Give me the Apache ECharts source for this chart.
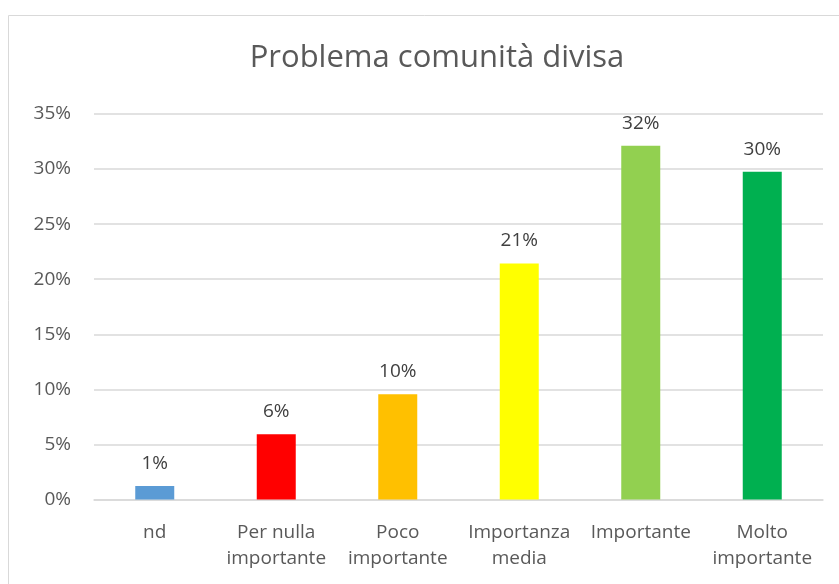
<!DOCTYPE html>
<html lang="it">
<head>
    <meta charset="UTF-8">
    <title>Problema comunità divisa</title>
    <style>
        body {
            margin: 0;
            background-color: #fff;
        }

        #chart {
            width: 839px;
            height: 584px;
        }
    </style>
</head>
<body>

    <div id="chart"></div>

    <script src="https://cdn.jsdelivr.net/npm/echarts@6/dist/echarts.min.js"></script>
    <script>

        // categorie
        const categories = ['nd', 'Per nulla\nimportante', 'Poco\nimportante', 'Importanza\nmedia', 'Importante', 'Molto\nimportante'];
        // valori (quota)
        const values = [0.0122, 0.0593, 0.0955, 0.2142, 0.3211, 0.2975];
        const barColors = ['#5B9BD5', '#FF0000', '#FFC000', '#FFFF00', '#92D050', '#00B050'];

        const font = '"Open Sans", sans-serif';
        const chart = echarts.init(document.getElementById('chart'));

        const option = {
            animation: false,
            title: {
                text: 'Problema comunità divisa',
                left: 432,
                textAlign: 'center',
                top: 38,
                textStyle: {
                    color: '#595959',
                    fontFamily: font,
                    fontSize: 31,
                    fontWeight: 'normal',
                },
            },
            graphic: [
                {
                    type: 'rect',
                    shape: { x: 8.5, y: 15.5, width: 850, height: 600 },
                    style: { fill: 'none', stroke: '#d9d9d9', lineWidth: 1 },
                },
            ],
            grid: {
                left: 94,
                right: 16,
                top: 114,
                bottom: 84.5,
            },
            xAxis: {
                type: 'category',
                data: categories,
                axisTick: { show: false },
                axisLine: { show: true, lineStyle: { color: '#d9d9d9', width: 1.5 } },
                axisLabel: {
                    color: '#595959',
                    fontFamily: font,
                    fontSize: 19,
                    lineHeight: 26,
                    margin: 20,
                    interval: 0,
                },
            },
            yAxis: {
                type: 'value',
                min: 0,
                max: 0.35,
                interval: 0.05,
                axisLine: { show: false },
                axisTick: { show: false },
                axisLabel: {
                    color: '#595959',
                    fontFamily: font,
                    fontSize: 19,
                    margin: 23,
                    formatter: v => Math.round(v * 100) + '%',
                },
                splitLine: {
                    lineStyle: { color: '#d9d9d9', width: 1.5 },
                },
            },
            series: [
                {
                    type: 'bar',
                    data: values.map((v, i) => ({ value: v, itemStyle: { color: barColors[i] } })),
                    barWidth: 39,
                    label: {
                        show: true,
                        position: 'top',
                        distance: 13,
                        color: '#404040',
                        fontFamily: font,
                        fontSize: 19,
                        formatter: p => Math.round(p.value * 100) + '%',
                    },
                },
            ],
        };

        chart.setOption(option);

    </script>
</body>
</html>
